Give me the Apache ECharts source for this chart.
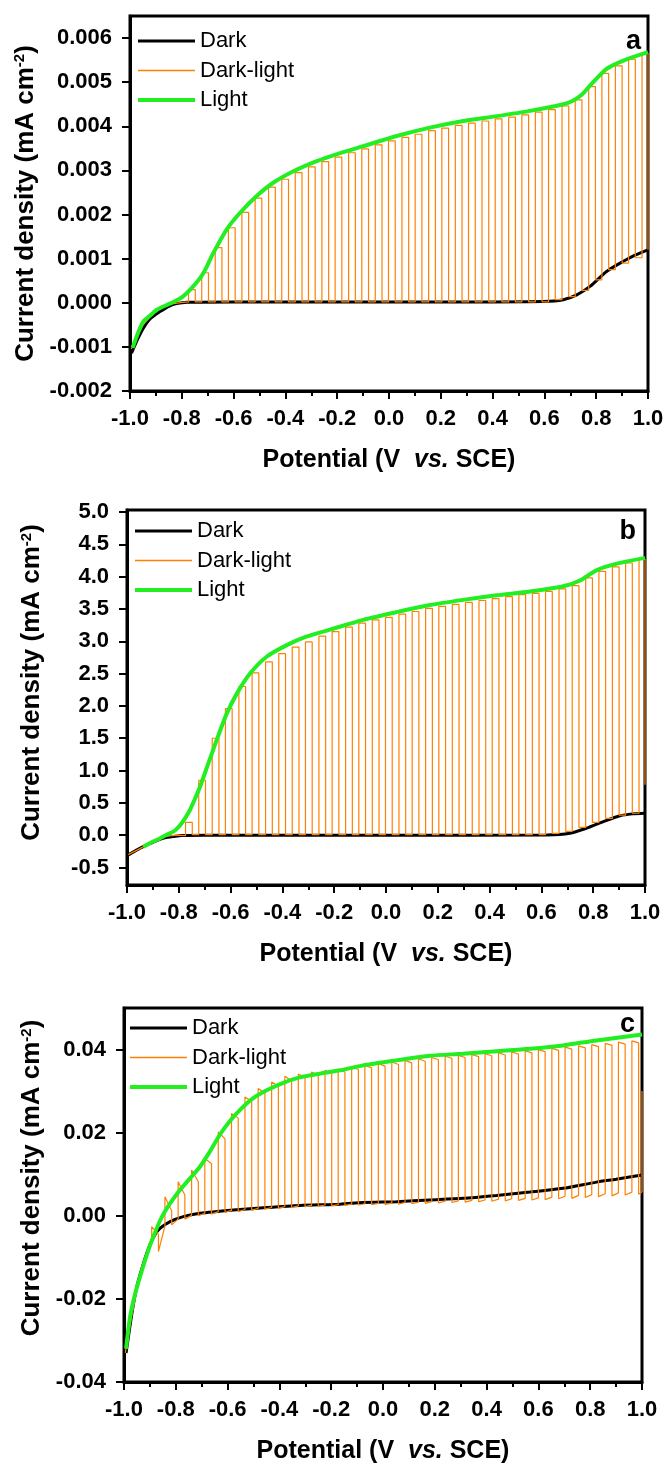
<!DOCTYPE html>
<html>
<head>
<meta charset="utf-8">
<script src="https://cdn.jsdelivr.net/npm/echarts@6/dist/echarts.min.js"></script>
<style>
  html, body { margin: 0; padding: 0; background: #fff; }
  #main { width: 668px; height: 1468px; }
</style>
</head>
<body>
<div id="main"></div>
<script>
// ---------- data ----------
var names = ['Dark', 'Dark-light', 'Light'];
var xTicks = [-1.0, -0.8, -0.6, -0.4, -0.2, 0.0, 0.2, 0.4, 0.6, 0.8, 1.0];
var yTicksA = [-0.002, -0.001, 0.000, 0.001, 0.002, 0.003, 0.004, 0.005, 0.006];
var yTicksB = [-0.5, 0.0, 0.5, 1.0, 1.5, 2.0, 2.5, 3.0, 3.5, 4.0, 4.5, 5.0];
var yTicksC = [-0.04, -0.02, 0.00, 0.02, 0.04];

// panel a
var darkA = [[-0.994,-0.00114],[-0.97,-0.00082],[-0.949,-0.00058],[-0.92,-0.00035],[-0.884,-0.0002],[-0.85,-0.00008],
  [-0.82,-0.00002],[-0.78,0.00001],[-0.6,0.00002],[-0.2,0.00002],[0.2,0.00002],[0.596,0.00003],[0.673,0.00007],
  [0.725,0.00018],[0.776,0.00037],[0.84,0.00071],[0.905,0.00094],[0.95,0.00108],[1.0,0.0012]];
var lightA = [[-0.99,-0.00102],[-0.97,-0.0007],[-0.949,-0.00043],[-0.92,-0.00028],[-0.897,-0.00016],[-0.846,-0.00002],
  [-0.80,0.00012],[-0.756,0.00037],[-0.717,0.00067],[-0.678,0.00113],[-0.627,0.00166],[-0.575,0.00204],[-0.511,0.00242],
  [-0.447,0.00272],[-0.369,0.00298],[-0.279,0.00321],[-0.2,0.00337],[-0.099,0.00355],[0.030,0.00378],[0.158,0.00397],
  [0.287,0.00412],[0.416,0.00423],[0.544,0.00435],[0.673,0.0045],[0.71,0.00458],[0.745,0.00472],[0.776,0.00492],
  [0.84,0.0053],[0.905,0.00549],[1.0,0.00568]];
var leadA = [[-0.995,-0.00105],[-0.95,-0.0005],[-0.9,-0.00018],[-0.85,-0.00004],[-0.80,0.00001]];
var topA = [0.0003,0.00068,0.00125,0.0017,0.00205,0.00237,0.00262,0.0028,0.00295,0.00308,0.0032,0.0033,0.0034,
  0.00349,0.00358,0.00367,0.00375,0.00382,0.0039,0.00396,0.00402,0.00407,0.00412,0.00417,0.00421,0.00426,0.00432,
  0.00438,0.00446,0.0046,0.0049,0.0052,0.00537,0.00552,0.00565];
var baseA = [0.00002,0.00002,0.00002,0.00002,0.00002,0.00002,0.00002,0.00002,0.00002,0.00002,0.00002,0.00002,0.00002,
  0.00002,0.00002,0.00002,0.00002,0.00002,0.00002,0.00002,0.00002,0.00002,0.00002,0.00002,0.00002,0.00002,0.00002,
  0.00002,0.00007,0.00014,0.00028,0.00052,0.00075,0.0009,0.00102];
var endA = 0.0012;

// light switching potentials, panels a and b
var onAB = [-0.774,-0.723,-0.671,-0.620,-0.568,-0.517,-0.465,-0.414,-0.362,-0.311,-0.259,-0.208,-0.156,-0.105,-0.053,
  -0.002,0.050,0.101,0.153,0.204,0.256,0.307,0.359,0.410,0.462,0.513,0.565,0.616,0.668,0.719,0.771,0.822,0.874,0.925,0.977];
var offAB = [-0.748,-0.697,-0.645,-0.594,-0.542,-0.491,-0.439,-0.388,-0.336,-0.285,-0.233,-0.182,-0.130,-0.079,-0.027,
  0.024,0.076,0.127,0.179,0.230,0.282,0.333,0.385,0.436,0.488,0.539,0.591,0.642,0.694,0.745,0.797,0.848,0.900,0.951,1.0];

// panel b
var darkB = [[-0.995,-0.304],[-0.965,-0.235],[-0.937,-0.176],[-0.9,-0.11],[-0.873,-0.062],[-0.85,-0.035],[-0.821,-0.02],
  [-0.79,-0.005],[-0.7,0.0],[0.0,0.0],[0.62,0.005],[0.71,0.03],[0.775,0.11],[0.839,0.21],[0.903,0.30],[0.95,0.33],[1.0,0.34]];
var lightB = [[-0.937,-0.18],[-0.905,-0.11],[-0.873,-0.05],[-0.85,0.0],[-0.821,0.056],[-0.805,0.11],[-0.789,0.185],
  [-0.773,0.28],[-0.757,0.39],[-0.738,0.56],[-0.718,0.75],[-0.686,1.11],[-0.654,1.47],[-0.615,1.88],[-0.576,2.19],
  [-0.525,2.50],[-0.461,2.76],[-0.383,2.94],[-0.308,3.07],[-0.216,3.18],[-0.088,3.33],[0.041,3.45],[0.170,3.56],
  [0.298,3.64],[0.427,3.71],[0.556,3.77],[0.685,3.85],[0.749,3.94],[0.814,4.10],[0.891,4.20],[1.0,4.29]];
var leadB = [[-0.995,-0.30],[-0.937,-0.18],[-0.9,-0.1],[-0.85,-0.02],[-0.81,0.0]];
var topB = [0.2,0.85,1.50,1.96,2.30,2.51,2.68,2.81,2.91,2.99,3.08,3.15,3.22,3.28,3.33,3.37,3.42,3.46,3.51,3.54,3.57,
  3.60,3.63,3.66,3.69,3.72,3.74,3.77,3.81,3.86,3.98,4.08,4.15,4.21,4.27];
var baseB = [-0.005,0.01,0.01,0.01,0.01,0.01,0.01,0.01,0.01,0.01,0.01,0.01,0.01,0.01,0.01,0.01,0.01,0.01,0.01,0.01,
  0.01,0.01,0.01,0.01,0.01,0.01,0.01,0.01,0.03,0.06,0.12,0.2,0.26,0.31,0.34];
var endB = 0.78;

// panel c
var darkC = [[-0.992,-0.033],[-0.978,-0.027],[-0.964,-0.0214],[-0.95,-0.017],[-0.938,-0.0142],[-0.92,-0.0105],
  [-0.90,-0.007],[-0.88,-0.0045],[-0.861,-0.003],[-0.822,-0.0014],[-0.771,-0.0002],[-0.707,0.0006],[-0.578,0.0014],
  [-0.449,0.002],[-0.321,0.0025],[-0.166,0.0028],[-0.077,0.0032],[0.052,0.0034],[0.181,0.0038],[0.309,0.0042],
  [0.438,0.0049],[0.567,0.0057],[0.695,0.0066],[0.824,0.0081],[0.9,0.0088],[1.0,0.0098]];
var lightC = [[-0.992,-0.032],[-0.977,-0.0245],[-0.958,-0.019],[-0.932,-0.0134],[-0.90,-0.0072],[-0.88,-0.004],
  [-0.861,-0.0012],[-0.842,0.001],[-0.822,0.003],[-0.784,0.0062],[-0.745,0.009],[-0.707,0.0118],[-0.668,0.0155],
  [-0.630,0.0195],[-0.591,0.0228],[-0.552,0.0255],[-0.501,0.0283],[-0.449,0.0302],[-0.385,0.032],[-0.321,0.0333],
  [-0.244,0.0342],[-0.166,0.035],[-0.077,0.0362],[0.052,0.0374],[0.181,0.0385],[0.309,0.039],[0.438,0.0396],
  [0.567,0.0402],[0.695,0.041],[0.824,0.0422],[1.0,0.0436]];
var leadC = [[-0.995,-0.033],[-0.97,-0.024],[-0.94,-0.0145],[-0.91,-0.0085]];
var onC = [-0.893,-0.842,-0.791,-0.739,-0.688,-0.636,-0.585,-0.533,-0.482,-0.430,-0.379,-0.327,-0.276,-0.224,-0.173,
  -0.121,-0.070,-0.018,0.034,0.085,0.137,0.188,0.240,0.291,0.343,0.394,0.446,0.497,0.549,0.600,0.652,0.703,0.755,
  0.806,0.858,0.909,0.961];
var offC = [-0.867,-0.816,-0.765,-0.713,-0.662,-0.610,-0.559,-0.507,-0.456,-0.404,-0.353,-0.301,-0.250,-0.198,-0.147,
  -0.095,-0.044,0.008,0.060,0.111,0.163,0.214,0.266,0.317,0.369,0.420,0.472,0.523,0.575,0.626,0.678,0.729,0.781,
  0.832,0.884,0.935,0.987];
var peakC = [-0.0026,0.0046,0.0082,0.011,0.0138,0.0202,0.0246,0.0286,0.0306,0.0322,0.0336,0.0341,0.0346,0.035,0.0352,
  0.0358,0.0362,0.0366,0.037,0.0374,0.0378,0.0381,0.0384,0.0386,0.0388,0.039,0.0392,0.0394,0.0397,0.04,0.0403,0.0406,
  0.0409,0.0412,0.0415,0.0418,0.0421];
var plateauC = [-0.0045,0.0012,0.005,0.0082,0.0125,0.0185,0.0235,0.0275,0.0296,0.0312,0.0325,0.0333,0.0338,0.0343,
  0.0346,0.0352,0.0356,0.036,0.0364,0.0368,0.0372,0.0376,0.0379,0.0381,0.0383,0.0385,0.0387,0.0389,0.0392,0.0395,
  0.0398,0.0401,0.0404,0.0407,0.041,0.0413,0.0416];
var lowC = [-0.0086,-0.0022,-0.0008,0.0,0.0004,0.0008,0.001,0.0013,0.0016,0.0018,0.002,0.0022,0.0023,0.0024,0.0025,
  0.0026,0.0027,0.0027,0.0028,0.0029,0.003,0.0031,0.0032,0.0033,0.0034,0.0035,0.0036,0.0037,0.0038,0.0039,0.0041,
  0.0042,0.0044,0.0046,0.0048,0.005,0.0052];
var baseC = [-0.0055,-0.0025,-0.0008,0.0001,0.0006,0.001,0.0013,0.0015,0.0018,0.002,0.0022,0.0024,0.0025,0.0026,
  0.0027,0.0028,0.0029,0.003,0.0031,0.0032,0.0033,0.0034,0.0035,0.0036,0.0037,0.0038,0.004,0.0041,0.0042,0.0043,
  0.0045,0.0047,0.0049,0.0051,0.0053,0.0055,0.0057];
var tailC = [[1.0,0.0058],[1.0,0.030]];

// ---------- chart ----------
var FONT = "'Liberation Sans', Arial, sans-serif";
var GREEN = '#22ee22', ORANGE = '#ff8000';

// chopped curve: before rise -> peak -> end of light -> after fall
function chop(lead, on, off, before, peak, plateau, after, tail) {
  var pts = lead.slice();
  for (var i = 0; i < on.length; i++) {
    pts.push([on[i], before[i]], [on[i], peak[i]], [off[i], plateau[i]], [off[i], after[i]]);
  }
  return pts.concat(tail || []);
}

var chopA = chop(leadA, onAB, offAB, baseA, topA, topA, baseA.slice(1).concat([endA]));
var chopB = chop(leadB, onAB, offAB, baseB, topB, topB, baseB.slice(1).concat([endB]));
var chopC = chop(leadC, onC, offC, baseC, peakC, plateauC, lowC, tailC);

var grids = [
  {left: 130, top: 16, width: 518, height: 375},
  {left: 127, top: 510, width: 518, height: 375},
  {left: 124, top: 1008, width: 518, height: 374}
];
var yCfg = [
  {min: -0.002, max: 0.0065, ticks: yTicksA, dec: 3, gap: 88, shift: 0},
  {min: -0.77, max: 5.03, ticks: yTicksB, dec: 1, gap: 82, shift: 30},
  {min: -0.04, max: 0.05, ticks: yTicksC, dec: 2, gap: 72, shift: 34}
];
var curves = [[darkA, chopA, lightA], [darkB, chopB, lightB], [darkC, chopC, lightC]];
var legendPos = [[138, 29], [135, 519], [130, 1016]];
var letters = [['a', 641, 42], ['b', 636, 532], ['c', 635, 1025]];
// legend swatches: plain strokes of the series' thickness
var legendIcons = ['path://M0,0H57V3H0Z', 'path://M0,0H57V1.6H0Z', 'path://M0,0H57V4H0Z'];

var chart = echarts.init(document.getElementById('main'));

var option = {
  animation: false,
  backgroundColor: '#fff',
  grid: grids.map(function (g) {
    return Object.assign({show: true, borderColor: '#000', borderWidth: 3, backgroundColor: 'transparent'}, g);
  }),
  legend: legendPos.map(function (p) {
    return {
      data: names.map(function (n, k) { return {name: n, icon: legendIcons[k]}; }),
      orient: 'vertical', left: p[0], top: p[1], padding: 0,
      itemWidth: 57, itemHeight: 14, itemGap: 5.5, selectedMode: false, symbolKeepAspect: true,
      textStyle: {fontFamily: FONT, fontSize: 22, color: '#000', lineHeight: 24}
    };
  }),
  xAxis: grids.map(function (g, i) {
    return {
      type: 'value', gridIndex: i, min: -1, max: 1, interval: 0.2,
      name: 'Potential (V  {it|vs.} SCE)', nameLocation: 'middle', nameGap: 57,
      nameTextStyle: {fontFamily: FONT, fontSize: 25, fontWeight: 'bold', color: '#000',
        rich: {it: {fontFamily: FONT, fontSize: 25, fontWeight: 'bold', fontStyle: 'italic', color: '#000'}}},
      axisLine: {show: true, onZero: false, lineStyle: {color: '#000', width: 3}},
      axisTick: {show: true, inside: false, length: 8, lineStyle: {color: '#000', width: 2}},
      minorTick: {show: true, splitNumber: 2, length: 5, lineStyle: {color: '#000', width: 2}},
      splitLine: {show: false},
      axisLabel: {
        margin: 17, fontFamily: FONT, fontSize: 22, fontWeight: 'bold', color: '#000',
        formatter: function (v) { return Math.abs(v) < 1e-9 ? '0.0' : v.toFixed(1); }
      }
    };
  }),
  yAxis: yCfg.map(function (c, i) {
    return {
      type: 'value', gridIndex: i, min: c.min, max: c.max,
      name: 'Current density (mA cm{sup|-2})', nameLocation: 'middle', nameGap: c.gap,
      nameTextStyle: {fontFamily: FONT, fontSize: 26, fontWeight: 'bold', color: '#000',
        padding: [0, 0, 0, c.shift],
        rich: {sup: {fontFamily: FONT, fontSize: 15, fontWeight: 'bold', color: '#000', verticalAlign: 'top'}}},
      axisLine: {show: true, onZero: false, lineStyle: {color: '#000', width: 3}},
      axisTick: {show: true, inside: false, length: 8, customValues: c.ticks, lineStyle: {color: '#000', width: 2}},
      splitLine: {show: false},
      axisLabel: {
        margin: 18, fontFamily: FONT, fontSize: 22, fontWeight: 'bold', color: '#000',
        customValues: c.ticks,
        formatter: (function (d) { return function (v) { return v.toFixed(d); }; })(c.dec)
      }
    };
  }),
  graphic: letters.map(function (l) {
    return {type: 'text', x: l[1], y: l[2], z: 100,
      style: {text: l[0], fill: '#000', font: 'bold 27px ' + FONT, align: 'right', verticalAlign: 'middle'}};
  }),
  series: []
};

curves.forEach(function (c, i) {
  option.series.push(
    {name: 'Dark', type: 'line', xAxisIndex: i, yAxisIndex: i, data: c[0], symbol: 'none',
      smooth: 0.25, lineStyle: {color: '#000', width: 3}, itemStyle: {color: '#000'}},
    {name: 'Dark-light', type: 'line', xAxisIndex: i, yAxisIndex: i, data: c[1], symbol: 'none',
      lineStyle: {color: ORANGE, width: 1.2}, itemStyle: {color: ORANGE}},
    {name: 'Light', type: 'line', xAxisIndex: i, yAxisIndex: i, data: c[2], symbol: 'none',
      smooth: 0.25, lineStyle: {color: GREEN, width: 4}, itemStyle: {color: GREEN}}
  );
});

chart.setOption(option);
</script>
</body>
</html>
